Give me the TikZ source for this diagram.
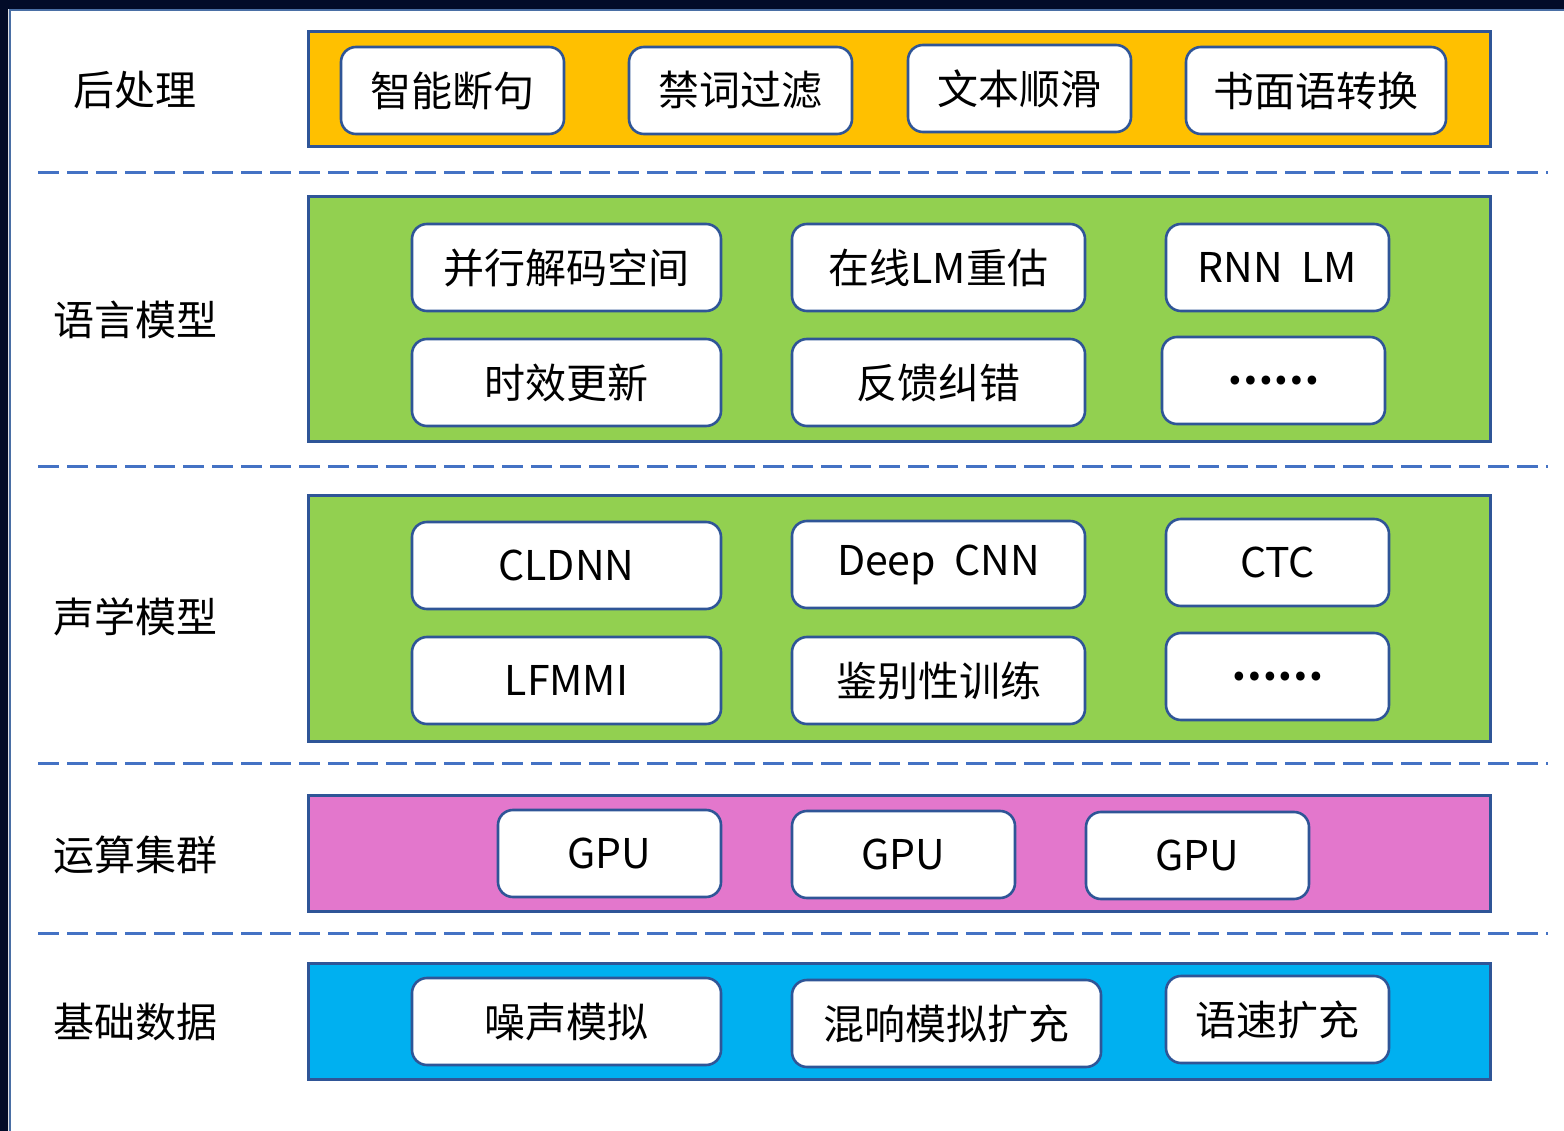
\documentclass[tikz,border=0pt]{standalone}
\usepackage{fontspec}
\setmainfont{Noto Sans CJK SC}
\usetikzlibrary{positioning}
\definecolor{navy}{HTML}{020B28}
\definecolor{rim}{HTML}{4A6FA5}
\definecolor{edge}{HTML}{2F5597}
\definecolor{cutblue}{HTML}{4472C4}
\definecolor{postc}{HTML}{FFC000}
\definecolor{modelc}{HTML}{92D050}
\definecolor{gpuc}{HTML}{E377CC}
\definecolor{datac}{HTML}{00B0F0}

\begin{document}
\begin{tikzpicture}[x=1pt,y=-1pt,every node/.style={inner sep=0pt,font=\fontsize{41}{46}\selectfont},
      layer/.style={draw=edge,line width=3pt,minimum width=1182pt},
      item/.style={draw=edge,fill=white,line width=2.6pt,rounded corners=15pt,minimum height=87pt,minimum width=223pt},
      wide/.style={item,minimum width=309pt},
      mid/.style={item,minimum width=293pt},
      more/.style={item,font=\fontsize{41}{46}\selectfont\bfseries},
      cut/.style={cutblue,line width=3pt,dash pattern=on 21pt off 8pt}]
      \useasboundingbox(0,0)rectangle(1564,1131);
      \fill[white](0,0)rectangle(1564,1131);
      % frame
      \fill[navy](0,0)rectangle(1564,9)(0,0)rectangle(8,1131);
      \draw[rim,line width=2pt](9.5,1131)--(9.5,10.5)--(1564,10.5);
      \foreach \y in {173,466,763,933}
        \draw[cut](38,\y)--(1548,\y);
      % layers
      \node[layer,fill=postc,minimum height=115pt](post)at(899,89.5){};
      \node[layer,fill=modelc,minimum height=245pt](lm)at(899,319.5){};
      \node[layer,fill=modelc,minimum height=246pt](am)at(899,618){};
      \node[layer,fill=gpuc,minimum height=116pt](gpu)at(899,853){};
      \node[layer,fill=datac,minimum height=116pt](data)at(899,1021){};
      \node(postL)at(135,90){后处理};
      \node(lmL)at(135,320){语言模型};
      \node(amL)at(135,617){声学模型};
      \node(gpuL)at(135,855){运算集群};
      \node(dataL)at(135,1022){基础数据};
      % post processing
      \node[item](p1)at(452.5,90.5){智能断句};
      \node[item](p2)at(740.5,90.5){禁词过滤};
      \node[item](p3)at(1019.5,88.5){文本顺滑};
      \node[item,minimum width=260pt](p4)at(1316,90.5){书面语转换};
      % language model
      \node[wide](l1)at(566.5,267.5){并行解码空间};
      \node[mid](l2)at(938.5,267.5){在线LM重估};
      \node[item](l3)at(1277.5,267.5){RNN\ \ LM};
      \node[wide](l4)at(566.5,382.5){时效更新};
      \node[mid](l5)at(938.5,382.5){反馈纠错};
      \node[more](l6)at(1273.5,380.5){……};
      % acoustic model
      \node[wide](a1)at(566.5,565.5){CLDNN};
      \node[mid](a2)at(938.5,564.5){Deep\ \ CNN};
      \node[item](a3)at(1277.5,562.5){CTC};
      \node[wide](a4)at(566.5,680.5){LFMMI};
      \node[mid](a5)at(938.5,680.5){鉴别性训练};
      \node[more](a6)at(1277.5,676.5){……};
      % cluster
      \node[item](g1)at(609.5,853.5){GPU};
      \node[item](g2)at(903.5,854.5){GPU};
      \node[item](g3)at(1197.5,855.5){GPU};
      % data
      \node[wide](d1)at(566.5,1021.5){噪声模拟};
      \node[wide](d2)at(946.5,1023.5){混响模拟扩充};
      \node[item](d3)at(1277.5,1019.5){语速扩充};
    \end{tikzpicture}
\end{document}
